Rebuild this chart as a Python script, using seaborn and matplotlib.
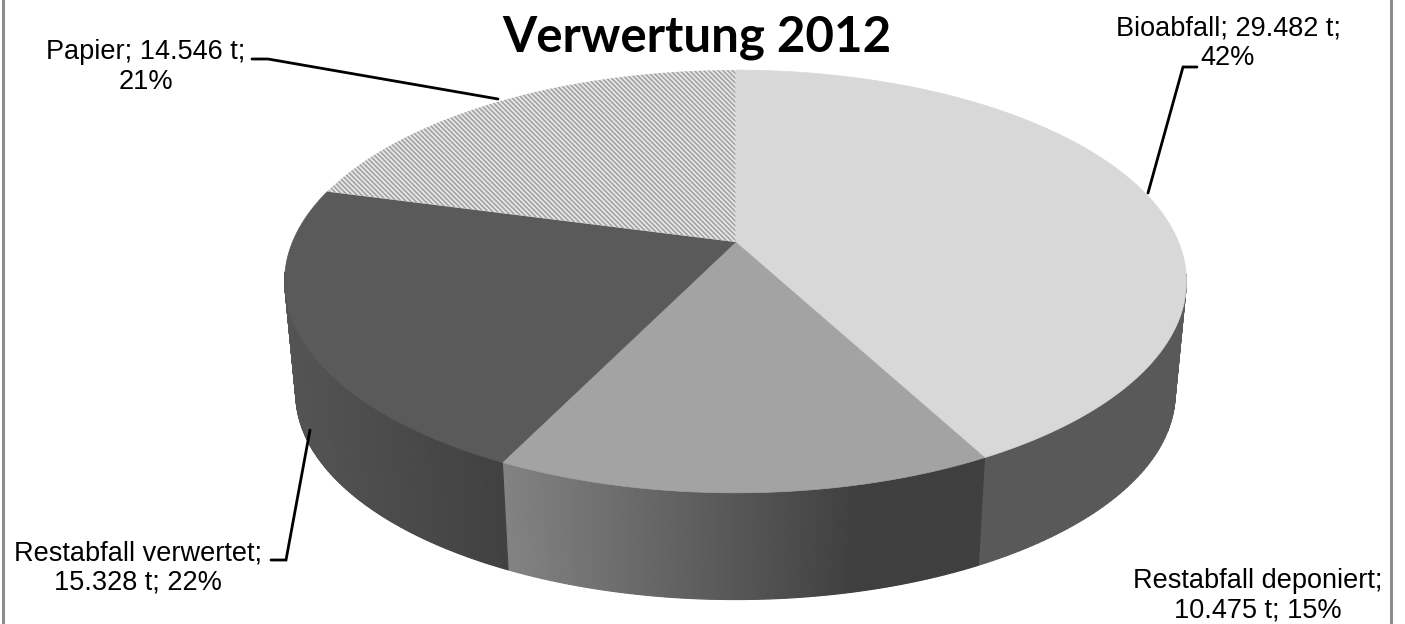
import numpy as np
import matplotlib
matplotlib.use("Agg")
import matplotlib.pyplot as plt
from matplotlib.collections import PolyCollection
from matplotlib.patches import Polygon, Rectangle
import seaborn as sns

# --- data ---
categories = ["Bioabfall", "Restabfall deponiert", "Restabfall verwertet", "Papier"]
tonnes = [29482, 10475, 15328, 14546]
tonne_labels = ["29.482", "10.475", "15.328", "14.546"]
percents = [42, 15, 22, 21]
title_text = "Verwertung 2012"

top_colors = ["#d8d8d8", "#a3a3a3", "#5a5a5a", "#ffffff"]
side_start = ["#595959", "#838383", "#545454", "#595959"]
side_end = ["#595959", "#3f3f3f", "#414141", "#595959"]

sns.set_theme(style="white")
plt.rcParams["font.family"] = ["Liberation Sans", "DejaVu Sans"]
plt.rcParams["hatch.linewidth"] = 1.3

fig, ax = plt.subplots(figsize=(14.05, 6.24), dpi=100)
fig.subplots_adjust(0, 0, 1, 1)
ax.set_xlim(0, 1405)
ax.set_ylim(624, 0)
ax.axis("off")

# perspective projection of the unit disc
CX, K, R, A = 735.5, 0.1867, 443.0, 204.0
TOP_Y, BOT_Y, BOT_S = 242.0, 355.0, 0.975


def project(theta, level_y, scale, radius=1.0):
    u = radius * np.sin(theta)
    v = radius * np.cos(theta)
    w = 1 + K * v
    return CX + scale * R * u / w, level_y - scale * A * v / w


fractions = np.array(tonnes) / np.sum(tonnes)
edges = np.concatenate([[0], np.cumsum(fractions)]) * 2 * np.pi


def mix(c0, c1, t):
    a = np.array(matplotlib.colors.to_rgb(c0))
    b = np.array(matplotlib.colors.to_rgb(c1))
    return a + (b - a) * t


# side wall, front part only, drawn as shaded strips
for i in range(4):
    th = np.linspace(edges[i], edges[i + 1], 160)
    th = th[np.cos(th) < -0.15]
    if len(th) < 2:
        continue
    x0, y0 = project(th, TOP_Y - 2.0, 1.0)
    x1, y1 = project(th, BOT_Y, BOT_S)
    polys, cols = [], []
    span = max(x0.max() - x0.min(), 1)
    for j in range(len(th) - 1):
        polys.append([(x0[j], y0[j]), (x0[j + 1], y0[j + 1]), (x1[j + 1], y1[j + 1]), (x1[j], y1[j])])
        t = np.clip((x0[j] - x0.min()) / span, 0, 1)
        if i == 1:
            t = np.clip(t * 1.35, 0, 1)
        cols.append(mix(side_start[i], side_end[i], t))
    ax.add_collection(PolyCollection(polys, facecolors=cols, edgecolors=cols, linewidths=0.8))

# top faces
for i in range(4):
    th = np.linspace(edges[i], edges[i + 1], 200)
    x, y = project(th, TOP_Y, 1.0)
    pts = np.column_stack([np.r_[CX, x], np.r_[TOP_Y, y]])
    if i == 3:
        ax.add_patch(Polygon(pts, closed=True, facecolor="#ececec", edgecolor="none", zorder=3))
        ax.add_patch(Polygon(pts, closed=True, facecolor="none", edgecolor="#a6a6a6",
                             hatch="\\\\\\\\\\\\\\", linewidth=0, zorder=4))
    else:
        ax.add_patch(Polygon(pts, closed=True, facecolor=top_colors[i], edgecolor=top_colors[i],
                             linewidth=0.5, zorder=3))

# frame strips at left and right
ax.add_patch(Rectangle((2, 0), 3, 624, facecolor="#8c8c8c", edgecolor="none"))
ax.add_patch(Rectangle((1390, 0), 3, 624, facecolor="#8c8c8c", edgecolor="none"))

# title
ax.text(697, 37, title_text, ha="center", va="center", fontsize=35.5, fontweight="bold",
        family="Lato", color="black", zorder=6)

# labels
labels = [
    f"{categories[0]}; {tonne_labels[0]} t;\n{percents[0]}%",
    f"{categories[1]};\n{tonne_labels[1]} t; {percents[1]}%",
    f"{categories[2]};\n{tonne_labels[2]} t; {percents[2]}%",
    f"{categories[3]}; {tonne_labels[3]} t;\n{percents[3]}%",
]
anchors = [(1228, 43), (1258, 596), (138, 568), (146, 67)]
for lab, (ax_x, ax_y) in zip(labels, anchors):
    ax.text(ax_x, ax_y, lab, ha="center", va="center", fontsize=19.5, color="black",
            linespacing=1.18, zorder=6)

# leader lines
leaders = [
    ([1197, 1183, 1148], [67, 67, 193]),
    ([252, 268, 498], [59, 59, 99]),
    ([271, 286, 310], [560, 560, 430]),
]
for lx, ly in leaders:
    ax.plot(lx, ly, color="black", lw=2.0, solid_joinstyle="miter", zorder=5)

fig.savefig("out.png", dpi=100, facecolor="white")
